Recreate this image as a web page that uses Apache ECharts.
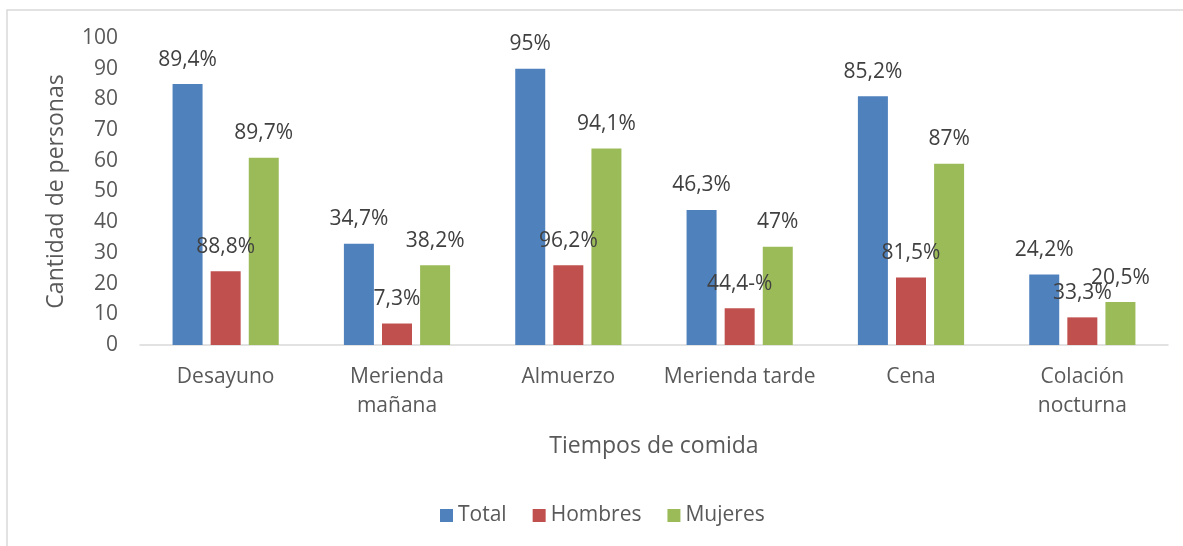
<!DOCTYPE html>
<html>
<head>
<meta charset="utf-8">
<title>Tiempos de comida</title>
<script src="https://cdn.jsdelivr.net/npm/echarts@6/dist/echarts.min.js"></script>
<style>
  html, body { margin: 0; padding: 0; background: #fff; }
  #chart { width: 1183px; height: 546px; }
</style>
</head>
<body>
<div id="chart"></div>
<script>
  var categories = ['Desayuno', 'Merienda\nmañana', 'Almuerzo', 'Merienda tarde', 'Cena', 'Colación\nnocturna']
  var totalValues = [85, 33, 90, 44, 81, 23]
  var hombresValues = [24, 7, 26, 12, 22, 9]
  var mujeresValues = [61, 26, 64, 32, 59, 14]
  var totalLabels = ['89,4%', '34,7%', '95%', '46,3%', '85,2%', '24,2%']
  var hombresLabels = ['88,8%', '7,3%', '96,2%', '44,4-%', '81,5%', '33,3%']
  var mujeresLabels = ['89,7%', '38,2%', '94,1%', '47%', '87%', '20,5%']

  var font = '"Open Sans", "Noto Sans", sans-serif'

  function barLabel(texts) {
    return {
      show: true,
      position: 'top',
      distance: 14,
      color: '#404040',
      fontFamily: font,
      fontSize: 21,
      formatter: function (p) { return texts[p.dataIndex] }
    }
  }

  var chart = echarts.init(document.getElementById('chart'))

  chart.setOption({
    animation: false,
    color: ['#4f81bd', '#c0504d', '#9bbb59'],
    graphic: [{
      type: 'rect',
      shape: { x: 7, y: 10, width: 1300, height: 700 },
      style: { fill: 'none', stroke: '#d9d9d9', lineWidth: 1.5 },
      silent: true
    }],
    grid: {
      left: 140,
      right: 15,
      top: 38,
      bottom: 201
    },
    legend: {
      bottom: 15,
      left: 435,
      icon: 'rect',
      itemWidth: 13,
      itemHeight: 13,
      itemGap: 26,
      textStyle: { color: '#595959', fontFamily: font, fontSize: 21 },
      data: ['Total', 'Hombres', 'Mujeres']
    },
    xAxis: [{
      type: 'category',
      data: categories,
      name: 'Tiempos de comida',
      nameLocation: 'middle',
      nameGap: 90,
      nameTextStyle: { color: '#595959', fontFamily: font, fontSize: 23 },
      axisLine: { lineStyle: { color: '#d9d9d9', width: 1.5 } },
      axisTick: { show: false },
      axisLabel: {
        color: '#595959',
        fontFamily: font,
        fontSize: 21,
        lineHeight: 29,
        margin: 18,
        interval: 0
      }
    }],
    yAxis: [{
      type: 'value',
      min: 0,
      max: 100,
      interval: 10,
      name: 'Cantidad de personas',
      nameLocation: 'middle',
      nameGap: 72,
      nameTextStyle: { color: '#595959', fontFamily: font, fontSize: 23 },
      axisLine: { show: false },
      axisTick: { show: false },
      splitLine: { show: false },
      axisLabel: {
        color: '#595959',
        fontFamily: font,
        fontSize: 21,
        margin: 22
      }
    }],
    series: [
      {
        name: 'Total',
        type: 'bar',
        barWidth: 30,
        barGap: '27%',
        data: totalValues,
        label: barLabel(totalLabels)
      }, {
        name: 'Hombres',
        type: 'bar',
        barWidth: 30,
        barGap: '27%',
        data: hombresValues,
        label: barLabel(hombresLabels)
      }, {
        name: 'Mujeres',
        type: 'bar',
        barWidth: 30,
        barGap: '27%',
        data: mujeresValues,
        label: barLabel(mujeresLabels)
      }
    ]
  })
</script>
</body>
</html>
